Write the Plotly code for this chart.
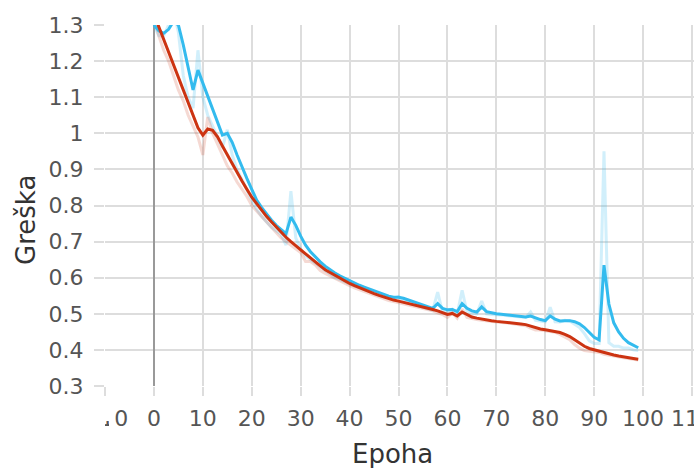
import plotly.graph_objects as go

epochs = list(range(100))

val_smoothed = [1.30, 1.284, 1.277, 1.288, 1.31, 1.30, 1.245, 1.18, 1.12, 1.175,
                1.14, 1.10, 1.065, 1.03, 0.995, 1.0, 0.975, 0.94, 0.905, 0.875,
                0.845, 0.815, 0.795, 0.777, 0.76, 0.745, 0.733, 0.722, 0.768, 0.745,
                0.715, 0.69, 0.672, 0.657, 0.644, 0.632, 0.622, 0.613, 0.605, 0.598,
                0.591, 0.585, 0.579, 0.574, 0.569, 0.564, 0.558, 0.553, 0.549, 0.546,
                0.546, 0.543, 0.538, 0.533, 0.528, 0.524, 0.519, 0.515, 0.528, 0.515,
                0.511, 0.512, 0.506, 0.528, 0.515, 0.508, 0.505, 0.519, 0.506, 0.502,
                0.500, 0.499, 0.497, 0.496, 0.494, 0.492, 0.491, 0.494, 0.488, 0.484,
                0.481, 0.494, 0.485, 0.480, 0.481, 0.481, 0.478, 0.472, 0.462, 0.447,
                0.435, 0.428, 0.635, 0.527, 0.475, 0.450, 0.432, 0.420, 0.412, 0.406]

val_raw = [1.30, 1.27, 1.27, 1.30, 1.34, 1.28, 1.16, 1.10, 1.07, 1.23,
           1.10, 1.05, 1.02, 0.99, 0.96, 1.01, 0.94, 0.90, 0.87, 0.84,
           0.815, 0.79, 0.77, 0.755, 0.74, 0.73, 0.72, 0.69, 0.84, 0.71,
           0.68, 0.66, 0.65, 0.64, 0.63, 0.62, 0.61, 0.60, 0.595, 0.588,
           0.582, 0.577, 0.572, 0.567, 0.562, 0.557, 0.552, 0.548, 0.545, 0.542,
           0.548, 0.538, 0.532, 0.527, 0.522, 0.518, 0.514, 0.51, 0.56, 0.505,
           0.505, 0.513, 0.50, 0.565, 0.505, 0.502, 0.50, 0.535, 0.50, 0.498,
           0.498, 0.497, 0.495, 0.494, 0.492, 0.49, 0.49, 0.505, 0.482, 0.48,
           0.478, 0.518, 0.478, 0.477, 0.482, 0.48, 0.472, 0.462, 0.445, 0.425,
           0.418, 0.418, 0.95, 0.42, 0.41, 0.41, 0.405, 0.405, 0.40, 0.398]

train_smoothed = [1.33, 1.295, 1.26, 1.225, 1.19, 1.155, 1.12, 1.085, 1.05, 1.015,
                  0.995, 1.012, 1.008, 0.99, 0.965, 0.94, 0.915, 0.89, 0.868, 0.845,
                  0.823, 0.805, 0.787, 0.77, 0.755, 0.74, 0.725, 0.712, 0.70, 0.688,
                  0.677, 0.666, 0.655, 0.645, 0.633, 0.622, 0.614, 0.606, 0.598, 0.591,
                  0.584, 0.578, 0.572, 0.566, 0.561, 0.556, 0.551, 0.546, 0.541, 0.538,
                  0.535, 0.532, 0.529, 0.525, 0.522, 0.518, 0.515, 0.512, 0.508, 0.503,
                  0.498, 0.501, 0.494, 0.505, 0.498, 0.491, 0.488, 0.485, 0.483, 0.481,
                  0.479, 0.478, 0.477, 0.476, 0.474, 0.472, 0.470, 0.466, 0.461, 0.458,
                  0.456, 0.454, 0.452, 0.448, 0.443, 0.437, 0.428, 0.419, 0.410, 0.404,
                  0.400, 0.397, 0.393, 0.389, 0.386, 0.383, 0.380, 0.378, 0.376, 0.374]

train_raw = [1.32, 1.27, 1.23, 1.20, 1.16, 1.12, 1.09, 1.05, 1.02, 0.99,
             0.94, 1.045, 1.00, 0.97, 0.94, 0.91, 0.89, 0.865, 0.845, 0.825,
             0.80, 0.785, 0.77, 0.755, 0.74, 0.725, 0.71, 0.70, 0.69, 0.68,
             0.67, 0.645, 0.645, 0.635, 0.62, 0.612, 0.605, 0.598, 0.59, 0.584,
             0.578, 0.572, 0.567, 0.561, 0.556, 0.551, 0.546, 0.542, 0.537, 0.534,
             0.531, 0.528, 0.525, 0.521, 0.518, 0.514, 0.511, 0.508, 0.503, 0.498,
             0.49, 0.503, 0.488, 0.513, 0.49, 0.486, 0.484, 0.482, 0.48, 0.478,
             0.477, 0.476, 0.475, 0.474, 0.471, 0.469, 0.467, 0.46, 0.455, 0.455,
             0.453, 0.452, 0.449, 0.443, 0.436, 0.428, 0.415, 0.405, 0.398, 0.396,
             0.395, 0.393, 0.388, 0.385, 0.383, 0.38, 0.378, 0.376, 0.374, 0.372]

x_ticks = [-10, 0, 10, 20, 30, 40, 50, 60, 70, 80, 90, 100, 110]
y_ticks = [0.3, 0.4, 0.5, 0.6, 0.7, 0.8, 0.9, 1.0, 1.1, 1.2, 1.3]
y_ticktext = ["0.3", "0.4", "0.5", "0.6", "0.7", "0.8", "0.9", "1", "1.1", "1.2", "1.3"]

BLUE = "#33bbee"
RED = "#cc3311"

fig = go.Figure()
fig.add_trace(go.Scatter(x=epochs, y=val_raw, mode="lines",
                         line=dict(color=BLUE, width=3), opacity=0.22,
                         showlegend=False, hoverinfo="skip"))
fig.add_trace(go.Scatter(x=epochs, y=train_raw, mode="lines",
                         line=dict(color=RED, width=3), opacity=0.18,
                         showlegend=False, hoverinfo="skip"))
fig.add_trace(go.Scatter(x=epochs, y=val_smoothed, mode="lines",
                         line=dict(color=BLUE, width=3), showlegend=False))
fig.add_trace(go.Scatter(x=epochs, y=train_smoothed, mode="lines",
                         line=dict(color=RED, width=3), showlegend=False))

font = "DejaVu Sans, Verdana, sans-serif"
L, T, R_PX, B_PX = 105, 25, 694, 386
PW, PH = R_PX - L, B_PX - T


def px_x(p):
    return (p - L) / PW


def px_y(p):
    return (B_PX - p) / PH


def white_box(xa, xb, ya, yb):
    return dict(type="rect", xref="paper", yref="paper", layer="above",
                x0=px_x(xa), x1=px_x(xb), y0=px_y(ya), y1=px_y(yb),
                fillcolor="white", line=dict(width=0))


fig.update_layout(
    width=694, height=468,
    margin=dict(l=L, r=694 - R_PX, t=T, b=468 - B_PX, autoexpand=False),
    paper_bgcolor="white", plot_bgcolor="white",
    font=dict(family=font, color="#555555", size=22),
    xaxis=dict(range=[-10, 110.4], tickmode="array", tickvals=x_ticks,
               automargin=False, ticklabeloverflow="allow",
               showgrid=True, gridcolor="#dddddd", gridwidth=2,
               zeroline=True, zerolinecolor="#999999", zerolinewidth=2,
               ticks="outside", ticklen=9, tickcolor="#dddddd", tickwidth=2,
               ticklabelstandoff=4,
               showline=False, tickfont=dict(size=22, color="#555555")),
    yaxis=dict(range=[0.3, 1.3], tickmode="array", tickvals=y_ticks, ticktext=y_ticktext,
               automargin=False, ticklabeloverflow="allow",
               showgrid=True, gridcolor="#dddddd", gridwidth=2,
               zeroline=False,
               ticks="outside", ticklen=10, tickcolor="#dddddd", tickwidth=2,
               ticklabelstandoff=6,
               showline=False, tickfont=dict(size=22, color="#555555")),
    annotations=[
        dict(text="Epoha", xref="paper", yref="paper", x=px_x(392), y=px_y(454),
             showarrow=False, xanchor="center", yanchor="middle",
             font=dict(size=26, color="#333333", family=font)),
        dict(text="Greška", xref="paper", yref="paper", x=px_x(26), y=px_y(220),
             showarrow=False, xanchor="center", yanchor="middle", textangle=-90,
             font=dict(size=26, color="#333333", family=font)),
    ],
    shapes=[
        white_box(0, 105, 398, 440),
        white_box(105, 114.5, 398, 421),
        white_box(109, 114.5, 421, 440),
    ],
)

fig.write_html("out.html", config={"displayModeBar": False},
               post_script="document.body.style.margin='0';")
